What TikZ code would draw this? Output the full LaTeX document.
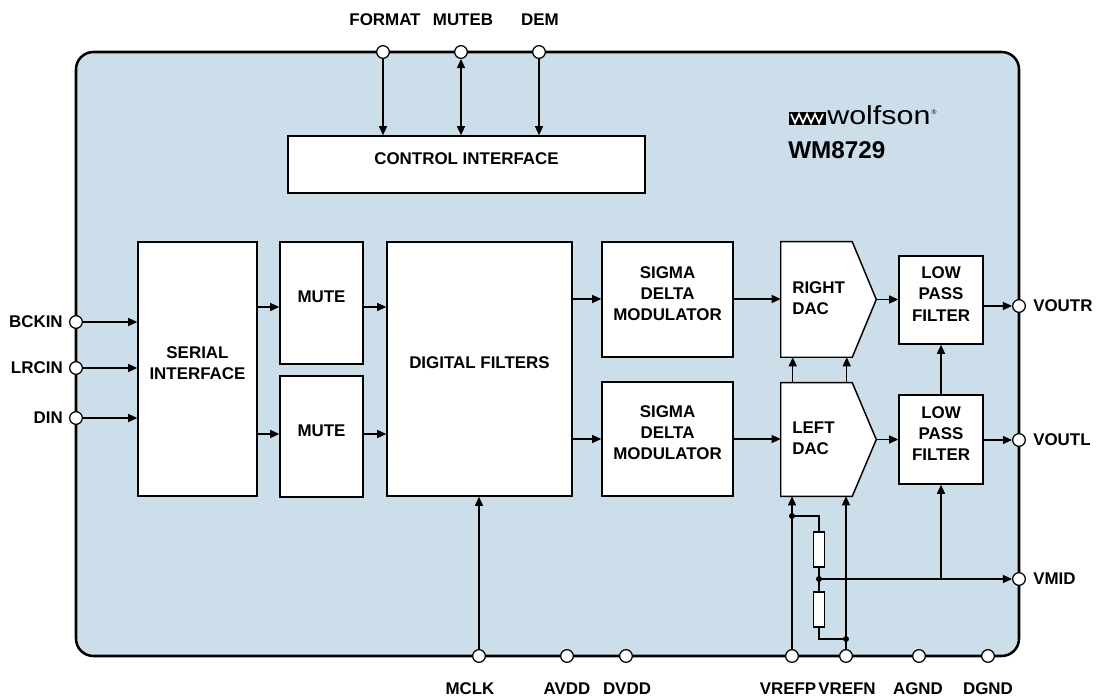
\documentclass[tikz,border=0pt]{standalone}
\usepackage{fontspec}
\setmainfont{Liberation Sans}
\usetikzlibrary{arrows.meta,fit,calc}
\definecolor{chipblue}{RGB}{204,222,233}
\begin{document}
\begin{tikzpicture}[x=0.75pt,y=-0.75pt,
  txt/.style={font=\fontsize{12.7}{15.8}\selectfont\bfseries, inner sep=0pt, align=center},
  blk/.style={draw=black, fill=white, line width=1.1pt, inner sep=0pt, align=center, font=\fontsize{12.7}{15.8}\selectfont\bfseries},
  chip/.style={draw=black, fill=chipblue, line width=1.9pt, rounded corners=13pt, inner sep=0pt},
  arr/.style={line width=0.95pt, -{Triangle[length=6.8pt,width=6pt]}},
  arrb/.style={line width=0.95pt, {Triangle[length=6.8pt,width=6pt]}-{Triangle[length=6.8pt,width=6pt]}},
  wire/.style={line width=0.95pt},
  pin/.style={circle, draw=black, fill=white, line width=0.95pt, minimum size=9.5pt, inner sep=0pt},
  jdot/.style={circle, fill=black, minimum size=4.5pt, inner sep=0pt},
  res/.style={draw=black, fill=white, line width=0.95pt, inner sep=0pt},
]
\useasboundingbox (0,0) rectangle (1096,698);

% chip body
\node[chip, fit={(76,52)(1019,656)}] (chip) {};

% row coordinates
\coordinate (r1) at (0,307);
\coordinate (r2) at (0,434);
\coordinate (r3) at (0,299);
\coordinate (r4) at (0,439);

% blocks
\node[blk, fit={(288,136)(645,193)}] (ci) {CONTROL INTERFACE};
\node[blk, fit={(138,242)(257,496)}] (si) {SERIAL\\INTERFACE};
\node[blk, fit={(280,242)(363,364)}] (m1) {MUTE};
\node[blk, fit={(280,376)(363,497)}] (m2) {MUTE};
\node[blk, fit={(387,242)(572,496)}] (df) {DIGITAL FILTERS};
\node[blk, fit={(602,242)(733,357)}] (sd1) {SIGMA\\DELTA\\MODULATOR};
\node[blk, fit={(602,382)(733,496)}] (sd2) {SIGMA\\DELTA\\MODULATOR};
\node[inner sep=0pt, fit={(781,242)(876,357)}] (rdac) {};
\node[inner sep=0pt, fit={(781,383)(876,496)}] (ldac) {};
\draw[fill=white, line width=1.1pt] (rdac.north west) -- ($(rdac.north east)+(-24,0)$) -- (rdac.east) -- ($(rdac.south east)+(-24,0)$) -- (rdac.south west) -- cycle;
\draw[fill=white, line width=1.1pt] (ldac.north west) -- ($(ldac.north east)+(-24,0)$) -- (ldac.east) -- ($(ldac.south east)+(-24,0)$) -- (ldac.south west) -- cycle;
\node[txt, anchor=west, align=left] (rdact) at (792,298) {RIGHT\\DAC};
\node[txt, anchor=west, align=left] (ldact) at (792,438) {LEFT\\DAC};
\node[blk, fit={(899,256)(983,344)}] (lpf1) {LOW\\PASS\\FILTER};
\node[blk, fit={(899,395)(983,484)}] (lpf2) {LOW\\PASS\\FILTER};

% logo
\fill[black] (789,112) rectangle (826,125);
\draw[white, line width=1.3pt, line join=miter] (791,114) -- (795,123) -- (799,114) -- (803,123) -- (807,114) -- (811,123) -- (815,114) -- (819,123) -- (823,114);
\node[anchor=base west, inner sep=0pt, font=\fontsize{19.5}{20}\selectfont, xscale=1.17, transform shape] (logo) at (827,125) {wolfson};
\node[inner sep=0pt, font=\fontsize{5}{5}\selectfont] (reg) at (934,112) {\textregistered};
\node[anchor=west, inner sep=0pt, font=\fontsize{18.2}{20}\selectfont\bfseries] (part) at (788,150) {WM8729};

% pins
\node[pin] (pFORMAT) at (383,52) {};
\node[pin] (pMUTEB) at (461,52) {};
\node[pin] (pDEM) at (539,52) {};
\node[pin] (pBCKIN) at (76,322) {};
\node[pin] (pLRCIN) at (76,368) {};
\node[pin] (pDIN) at (76,418) {};
\node[pin] (pVOUTR) at (1019,306) {};
\node[pin] (pVOUTL) at (1019,440) {};
\node[pin] (pVMID) at (1019,579) {};
\node[pin] (pMCLK) at (479,656) {};
\node[pin] (pAVDD) at (567,656) {};
\node[pin] (pDVDD) at (626,656) {};
\node[pin] (pVREFP) at (792,656) {};
\node[pin] (pVREFN) at (846,656) {};
\node[pin] (pAGND) at (919,656) {};
\node[pin] (pDGND) at (988,656) {};

% pin labels
\node[txt] (lFORMAT) at (385,20) {FORMAT};
\node[txt] (lMUTEB) at (463,20) {MUTEB};
\node[txt] (lDEM) at (540,20) {DEM};
\node[txt, anchor=east] (lBCKIN) at (63,322) {BCKIN};
\node[txt, anchor=east] (lLRCIN) at (63,368) {LRCIN};
\node[txt, anchor=east] (lDIN) at (63,418) {DIN};
\node[txt, anchor=west] (lVOUTR) at (1033,306) {VOUTR};
\node[txt, anchor=west] (lVOUTL) at (1033,440) {VOUTL};
\node[txt, anchor=west] (lVMID) at (1033,579) {VMID};
\node[txt] (lMCLK) at (470,689) {MCLK};
\node[txt] (lAVDD) at (567,689) {AVDD};
\node[txt] (lDVDD) at (627,689) {DVDD};
\node[txt] (lVREFP) at (788,689) {VREFP};
\node[txt] (lVREFN) at (847,689) {VREFN};
\node[txt] (lAGND) at (918,689) {AGND};
\node[txt] (lDGND) at (988,689) {DGND};

% control pins
\draw[arr] (pFORMAT) -- (ci.north -| pFORMAT);
\draw[arrb] (pMUTEB) -- (ci.north -| pMUTEB);
\draw[arr] (pDEM) -- (ci.north -| pDEM);

% serial inputs
\draw[arr] (pBCKIN) -- (si.west |- pBCKIN);
\draw[arr] (pLRCIN) -- (si.west |- pLRCIN);
\draw[arr] (pDIN) -- (si.west |- pDIN);

% data path
\draw[arr] (si.east |- r1) -- (m1.west |- r1);
\draw[arr] (si.east |- r2) -- (m2.west |- r2);
\draw[arr] (m1.east |- r1) -- (df.west |- r1);
\draw[arr] (m2.east |- r2) -- (df.west |- r2);
\draw[arr] (df.east |- r3) -- (sd1.west |- r3);
\draw[arr] (df.east |- r4) -- (sd2.west |- r4);
\draw[arr] (sd1.east |- r3) -- (rdac.west |- r3);
\draw[arr] (sd2.east |- r4) -- (ldac.west |- r4);
\draw[arr] (rdac.east) -- (lpf1.west |- rdac.east);
\draw[arr] (ldac.east) -- (lpf2.west |- ldac.east);
\draw[arr] (lpf1.east |- pVOUTR) -- (pVOUTR);
\draw[arr] (lpf2.east |- pVOUTL) -- (pVOUTL);

% DAC references
\draw[arr] ($(ldac.north west)+(12,0)$) -- ($(rdac.south west)+(12,0)$);
\draw[arr] ($(ldac.north west)+(66,0)$) -- ($(rdac.south west)+(66,0)$);
\draw[arr] (lpf2.north) -- (lpf1.south);

% MCLK
\draw[arr] (pMCLK) -- (pMCLK |- df.south);

% reference network
\draw[arr] (pVREFP) -- (pVREFP |- ldac.south);
\draw[arr] (pVREFN) -- (pVREFN |- ldac.south);
\node[jdot] (d1) at (792,516) {};
\node[jdot] (dj) at (819,579) {};
\node[jdot] (d2) at (846,639) {};
\node[res, minimum width=8.25pt, minimum height=26.25pt] (res1) at (819,549.5) {};
\node[res, minimum width=8.25pt, minimum height=26.25pt] (res2) at (819,609.5) {};
\draw[wire] (d1.center) -| (res1.north);
\draw[wire] (res1.south) -- (dj.center) -- (res2.north);
\draw[wire] (res2.south) |- (d2.center);
\draw[arr] (dj.center) -- (pVMID);
\draw[arr] (lpf2.south |- dj) -- (lpf2.south);
\end{tikzpicture}
\end{document}
